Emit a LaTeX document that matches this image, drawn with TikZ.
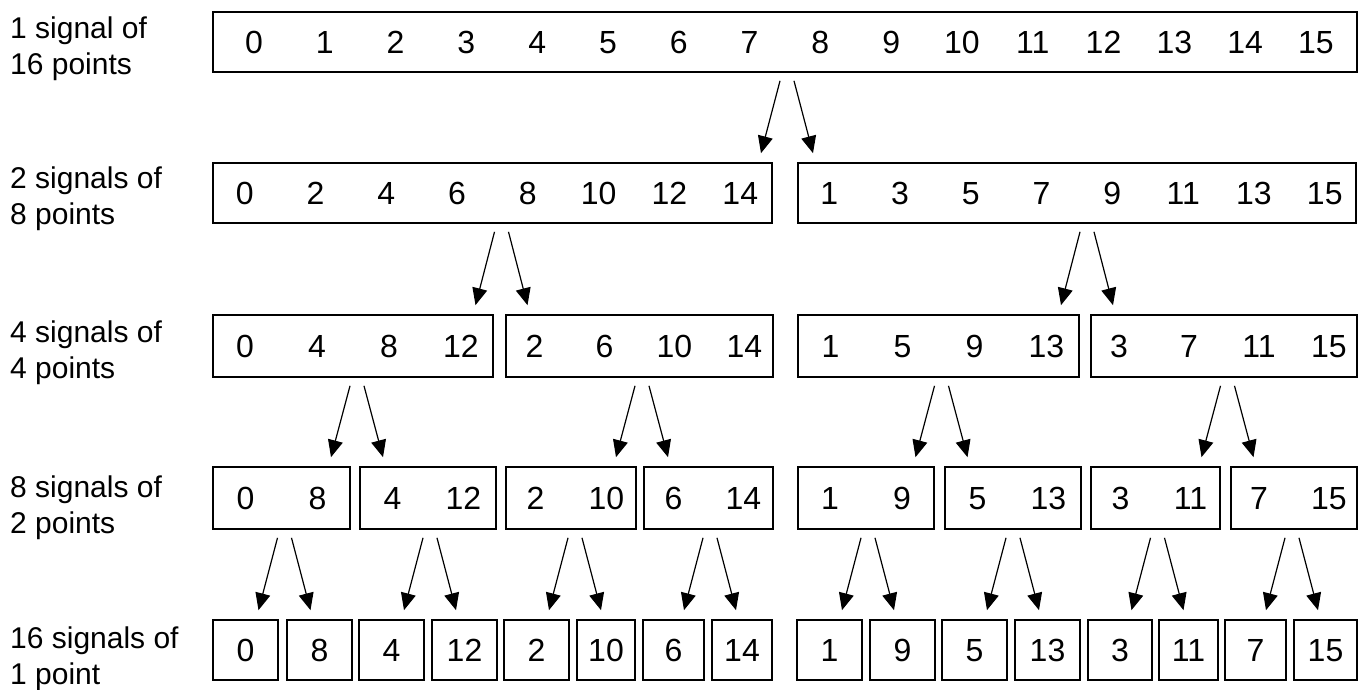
\documentclass[tikz,border=0pt]{standalone}
\usepackage{fontspec}
\setmainfont{Liberation Sans}
\usetikzlibrary{arrows.meta,calc}
\newlength\cellw
\newcommand\cc[1]{\makebox[\cellw][c]{#1}}
\tikzset{
  seg/.style={draw=black,line width=1.7pt,inner sep=0pt,text height=23pt,text depth=0pt,font=\fontsize{32}{36}\selectfont},
  arr/.style={line width=1.2pt,-{Triangle[length=17pt,width=15pt]}},
  lbl/.style={anchor=north west,inner sep=0pt,align=left,font=\fontsize{30}{36}\selectfont},
}
% \sigbox{name}{left}{right}{top}{bottom}{cell width}{text}
\newcommand\sigbox[7]{%
  \node[seg,minimum width={(#3-#2)*1pt},minimum height={(#5-#4)*1pt}] (#1) at ({(#2+#3)/2},{(#4+#5)/2})
    {\setlength{\cellw}{#6pt}\makebox[0pt][c]{#7}};}
\newcommand\splitarr[3]{%
  \draw[arr] let \p1=($(#2.north east)!.5!(#3.north west)$), \p2=(#1.south) in (\x1-5pt,\y2-8pt) -- (\x1-24pt,\y1+9pt);
  \draw[arr] let \p1=($(#2.north east)!.5!(#3.north west)$), \p2=(#1.south) in (\x1+9pt,\y2-8pt) -- (\x1+28pt,\y1+9pt);}
\begin{document}
\begin{tikzpicture}[x=1pt,y=-1pt]
\useasboundingbox (0,0) rectangle (1363,689);
% labels
\node[lbl] (l1) at (10,17) {1 signal of\\16 points};
\node[lbl] (l2) at (10,167) {2 signals of\\8 points};
\node[lbl] (l3) at (10,321) {4 signals of\\4 points};
\node[lbl] (l4) at (10,476) {8 signals of\\2 points};
\node[lbl] (l5) at (10,627) {16 signals of\\1 point};
% row 1
\sigbox{a}{213}{1357}{12}{72}{70.8}{\cc{0}\cc{1}\cc{2}\cc{3}\cc{4}\cc{5}\cc{6}\cc{7}\cc{8}\cc{9}\cc{10}\cc{11}\cc{12}\cc{13}\cc{14}\cc{15}}
% row 2
\sigbox{b1}{213}{772}{163}{223}{70.8}{\cc{0}\cc{2}\cc{4}\cc{6}\cc{8}\cc{10}\cc{12}\cc{14}}
\sigbox{b2}{798}{1356}{163}{223}{70.8}{\cc{1}\cc{3}\cc{5}\cc{7}\cc{9}\cc{11}\cc{13}\cc{15}}
% row 3
\sigbox{c1}{213}{493}{315}{377}{72}{\cc{0}\cc{4}\cc{8}\cc{12}}
\sigbox{c2}{506}{773}{315}{377}{70}{\cc{2}\cc{6}\cc{10}\cc{14}}
\sigbox{c3}{798}{1079}{315}{377}{72}{\cc{1}\cc{5}\cc{9}\cc{13}}
\sigbox{c4}{1091}{1357}{315}{377}{70}{\cc{3}\cc{7}\cc{11}\cc{15}}
% row 4
\sigbox{d1}{213}{350}{467}{529}{72}{\cc{0}\cc{8}}
\sigbox{d2}{360}{496}{467}{529}{71}{\cc{4}\cc{12}}
\sigbox{d3}{506}{636}{467}{529}{71}{\cc{2}\cc{10}}
\sigbox{d4}{644}{773}{467}{529}{70}{\cc{6}\cc{14}}
\sigbox{d5}{798}{934}{467}{529}{72}{\cc{1}\cc{9}}
\sigbox{d6}{945}{1081}{467}{529}{71}{\cc{5}\cc{13}}
\sigbox{d7}{1091}{1220}{467}{529}{70}{\cc{3}\cc{11}}
\sigbox{d8}{1231}{1357}{467}{529}{70}{\cc{7}\cc{15}}
% row 5
\sigbox{e1}{213}{278}{620}{680}{60}{\cc{0}}
\sigbox{e2}{287}{352}{620}{680}{60}{\cc{8}}
\sigbox{e3}{359}{424}{620}{680}{60}{\cc{4}}
\sigbox{e4}{432}{497}{620}{680}{60}{\cc{12}}
\sigbox{e5}{504}{569}{620}{680}{60}{\cc{2}}
\sigbox{e6}{577}{635}{620}{680}{60}{\cc{10}}
\sigbox{e7}{643}{704}{620}{680}{60}{\cc{6}}
\sigbox{e8}{712}{772}{620}{680}{60}{\cc{14}}
\sigbox{e9}{797}{862}{620}{680}{60}{\cc{1}}
\sigbox{e10}{870}{935}{620}{680}{60}{\cc{9}}
\sigbox{e11}{942}{1007}{620}{680}{60}{\cc{5}}
\sigbox{e12}{1015}{1080}{620}{680}{60}{\cc{13}}
\sigbox{e13}{1088}{1152}{620}{680}{60}{\cc{3}}
\sigbox{e14}{1159}{1218}{620}{680}{60}{\cc{11}}
\sigbox{e15}{1225}{1286}{620}{680}{60}{\cc{7}}
\sigbox{e16}{1294}{1357}{620}{680}{60}{\cc{15}}
% arrows
\splitarr{a}{b1}{b2}
\splitarr{b1}{c1}{c2}
\splitarr{b2}{c3}{c4}
\splitarr{c1}{d1}{d2}
\splitarr{c2}{d3}{d4}
\splitarr{c3}{d5}{d6}
\splitarr{c4}{d7}{d8}
\splitarr{d1}{e1}{e2}
\splitarr{d2}{e3}{e4}
\splitarr{d3}{e5}{e6}
\splitarr{d4}{e7}{e8}
\splitarr{d5}{e9}{e10}
\splitarr{d6}{e11}{e12}
\splitarr{d7}{e13}{e14}
\splitarr{d8}{e15}{e16}
\end{tikzpicture}
\end{document}
